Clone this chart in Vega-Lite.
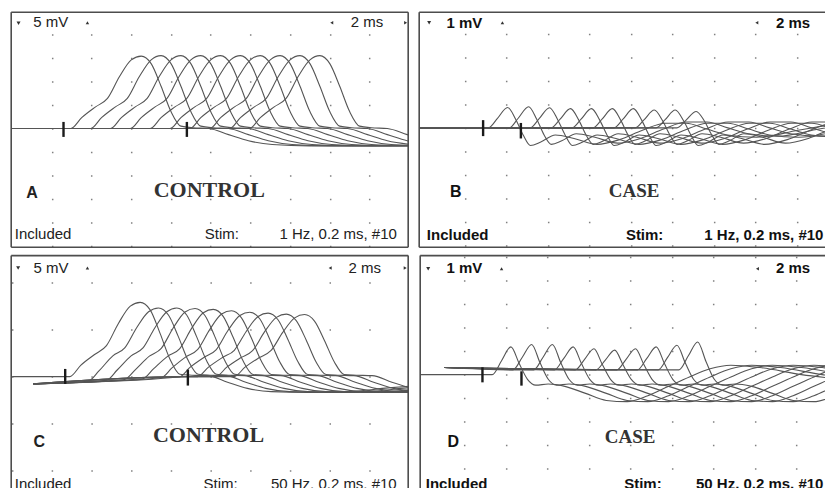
{
"$schema": "https://vega.github.io/schema/vega-lite/v6.json",
"background": "white",
"padding": {"left": 10.2, "top": 11.2, "right": 0, "bottom": 0},
"spacing": 6.4,
"config": {
  "view": {"stroke": null},
  "axis": {"grid": true, "domain": false, "labels": false, "ticks": false, "gridColor": "#808080", "gridWidth": 1.5, "gridOpacity": 1, "minExtent": 0},
  "text": {"font": "Liberation Sans", "baseline": "alphabetic", "fontSize": 15, "color": "#222"},
  "point": {"filled": true, "opacity": 1, "color": "#333"},
  "line": {"interpolate": "monotone", "color": "#555", "strokeWidth": 1.1}
},
"datasets": {
"A": [
{"s":0,"t":0,"v":0},{"s":0,"t":2.95,"v":0},{"s":0,"t":3.5,"v":2.3},{"s":0,"t":4.2,"v":4.6},{"s":0,"t":4.8,"v":6.4},{"s":0,"t":5.4,"v":11},{"s":0,"t":6.0,"v":14.6},{"s":0,"t":6.5,"v":15.4},{"s":0,"t":7.0,"v":13.8},{"s":0,"t":7.5,"v":9.0},{"s":0,"t":8.0,"v":3.6},{"s":0,"t":8.5,"v":0.5},{"s":0,"t":9.1,"v":0.15},{"s":0,"t":9.9,"v":0},{"s":0,"t":10.9,"v":-1.3},{"s":0,"t":11.9,"v":-2.6},{"s":0,"t":13.1,"v":-3.4},{"s":0,"t":15.0,"v":-3.7},{"s":0,"t":20.0,"v":-3.6},
{"s":1,"t":0,"v":0},{"s":1,"t":3.95,"v":0},{"s":1,"t":4.5,"v":2.3},{"s":1,"t":5.2,"v":4.6},{"s":1,"t":5.8,"v":6.4},{"s":1,"t":6.4,"v":11},{"s":1,"t":7.0,"v":14.6},{"s":1,"t":7.5,"v":15.5},{"s":1,"t":8.0,"v":13.8},{"s":1,"t":8.5,"v":9.0},{"s":1,"t":9.0,"v":3.6},{"s":1,"t":9.5,"v":0.5},{"s":1,"t":10.1,"v":0.15},{"s":1,"t":10.9,"v":0},{"s":1,"t":11.9,"v":-1.3},{"s":1,"t":12.9,"v":-2.6},{"s":1,"t":14.1,"v":-3.4},{"s":1,"t":16.0,"v":-3.7},{"s":1,"t":21.0,"v":-3.6},
{"s":2,"t":0,"v":0},{"s":2,"t":4.95,"v":0},{"s":2,"t":5.5,"v":2.3},{"s":2,"t":6.2,"v":4.6},{"s":2,"t":6.8,"v":6.4},{"s":2,"t":7.4,"v":11},{"s":2,"t":8.0,"v":14.6},{"s":2,"t":8.5,"v":15.5},{"s":2,"t":9.0,"v":13.8},{"s":2,"t":9.5,"v":9.0},{"s":2,"t":10.0,"v":3.6},{"s":2,"t":10.5,"v":0.5},{"s":2,"t":11.1,"v":0.15},{"s":2,"t":11.9,"v":0},{"s":2,"t":12.9,"v":-1.3},{"s":2,"t":13.9,"v":-2.6},{"s":2,"t":15.1,"v":-3.4},{"s":2,"t":17.0,"v":-3.7},{"s":2,"t":22.0,"v":-3.6},
{"s":3,"t":0,"v":0},{"s":3,"t":5.95,"v":0},{"s":3,"t":6.5,"v":2.3},{"s":3,"t":7.2,"v":4.6},{"s":3,"t":7.8,"v":6.4},{"s":3,"t":8.4,"v":11},{"s":3,"t":9.0,"v":14.6},{"s":3,"t":9.5,"v":15.5},{"s":3,"t":10.0,"v":13.8},{"s":3,"t":10.5,"v":9.0},{"s":3,"t":11.0,"v":3.6},{"s":3,"t":11.5,"v":0.5},{"s":3,"t":12.1,"v":0.15},{"s":3,"t":12.9,"v":0},{"s":3,"t":13.9,"v":-1.3},{"s":3,"t":14.9,"v":-2.6},{"s":3,"t":16.1,"v":-3.4},{"s":3,"t":18.0,"v":-3.7},{"s":3,"t":23.0,"v":-3.6},
{"s":4,"t":0,"v":0},{"s":4,"t":6.95,"v":0},{"s":4,"t":7.5,"v":2.3},{"s":4,"t":8.2,"v":4.6},{"s":4,"t":8.8,"v":6.4},{"s":4,"t":9.4,"v":11},{"s":4,"t":10.0,"v":14.6},{"s":4,"t":10.5,"v":15.5},{"s":4,"t":11.0,"v":13.8},{"s":4,"t":11.5,"v":9.0},{"s":4,"t":12.0,"v":3.6},{"s":4,"t":12.5,"v":0.5},{"s":4,"t":13.1,"v":0.15},{"s":4,"t":13.9,"v":0},{"s":4,"t":14.9,"v":-1.3},{"s":4,"t":15.9,"v":-2.6},{"s":4,"t":17.1,"v":-3.4},{"s":4,"t":19.0,"v":-3.7},{"s":4,"t":24.0,"v":-3.6},
{"s":5,"t":0,"v":0},{"s":5,"t":7.95,"v":0},{"s":5,"t":8.5,"v":2.3},{"s":5,"t":9.2,"v":4.6},{"s":5,"t":9.8,"v":6.4},{"s":5,"t":10.4,"v":11},{"s":5,"t":11.0,"v":14.6},{"s":5,"t":11.5,"v":15.5},{"s":5,"t":12.0,"v":13.8},{"s":5,"t":12.5,"v":9.0},{"s":5,"t":13.0,"v":3.6},{"s":5,"t":13.5,"v":0.5},{"s":5,"t":14.1,"v":0.15},{"s":5,"t":14.9,"v":0},{"s":5,"t":15.9,"v":-1.3},{"s":5,"t":16.9,"v":-2.6},{"s":5,"t":18.1,"v":-3.4},{"s":5,"t":20.0,"v":-3.7},
{"s":6,"t":0,"v":0},{"s":6,"t":8.95,"v":0},{"s":6,"t":9.5,"v":2.3},{"s":6,"t":10.2,"v":4.6},{"s":6,"t":10.8,"v":6.4},{"s":6,"t":11.4,"v":11},{"s":6,"t":12.0,"v":14.6},{"s":6,"t":12.5,"v":15.5},{"s":6,"t":13.0,"v":13.8},{"s":6,"t":13.5,"v":9.0},{"s":6,"t":14.0,"v":3.6},{"s":6,"t":14.5,"v":0.5},{"s":6,"t":15.1,"v":0.15},{"s":6,"t":15.9,"v":0},{"s":6,"t":16.9,"v":-1.3},{"s":6,"t":17.9,"v":-2.6},{"s":6,"t":19.1,"v":-3.4},{"s":6,"t":21.0,"v":-3.7},
{"s":7,"t":0,"v":0},{"s":7,"t":9.95,"v":0},{"s":7,"t":10.5,"v":2.3},{"s":7,"t":11.2,"v":4.6},{"s":7,"t":11.8,"v":6.4},{"s":7,"t":12.4,"v":11},{"s":7,"t":13.0,"v":14.6},{"s":7,"t":13.5,"v":15.5},{"s":7,"t":14.0,"v":13.8},{"s":7,"t":14.5,"v":9.0},{"s":7,"t":15.0,"v":3.6},{"s":7,"t":15.5,"v":0.5},{"s":7,"t":16.1,"v":0.15},{"s":7,"t":16.9,"v":0},{"s":7,"t":17.9,"v":-1.3},{"s":7,"t":18.9,"v":-2.6},{"s":7,"t":20.1,"v":-3.4},
{"s":8,"t":0,"v":0},{"s":8,"t":10.95,"v":0},{"s":8,"t":11.5,"v":2.3},{"s":8,"t":12.2,"v":4.6},{"s":8,"t":12.8,"v":6.4},{"s":8,"t":13.4,"v":11},{"s":8,"t":14.0,"v":14.6},{"s":8,"t":14.5,"v":15.5},{"s":8,"t":15.0,"v":13.8},{"s":8,"t":15.5,"v":9.0},{"s":8,"t":16.0,"v":3.6},{"s":8,"t":16.5,"v":0.5},{"s":8,"t":17.1,"v":0.15},{"s":8,"t":17.9,"v":0},{"s":8,"t":18.9,"v":-1.3},{"s":8,"t":19.9,"v":-2.6},{"s":8,"t":21.1,"v":-3.4},
{"s":9,"t":0,"v":0},{"s":9,"t":11.95,"v":0},{"s":9,"t":12.5,"v":2.3},{"s":9,"t":13.2,"v":4.6},{"s":9,"t":13.8,"v":6.4},{"s":9,"t":14.4,"v":11},{"s":9,"t":15.0,"v":14.6},{"s":9,"t":15.5,"v":15.5},{"s":9,"t":16.0,"v":13.8},{"s":9,"t":16.5,"v":9.0},{"s":9,"t":17.0,"v":3.6},{"s":9,"t":17.5,"v":0.5},{"s":9,"t":18.1,"v":0.15},{"s":9,"t":18.9,"v":0},{"s":9,"t":19.9,"v":-1.3},{"s":9,"t":20.9,"v":-2.6}
],
"B": [
{"s":0,"t":-0.2,"v":0},{"s":0,"t":3.13,"v":0},{"s":0,"t":3.56,"v":0.39},{"s":0,"t":4.06,"v":0.87},{"s":0,"t":4.46,"v":0.35},{"s":0,"t":4.81,"v":-0.3},{"s":0,"t":5.16,"v":-0.75},{"s":0,"t":5.66,"v":-0.6},{"s":0,"t":6.36,"v":-0.3},{"s":0,"t":7.26,"v":-0.45},{"s":0,"t":8.36,"v":-0.7},{"s":0,"t":9.46,"v":-0.5},{"s":0,"t":10.56,"v":-0.1},{"s":0,"t":11.66,"v":0.2},{"s":0,"t":12.66,"v":0.2},{"s":0,"t":13.66,"v":-0.05},{"s":0,"t":14.66,"v":-0.3},{"s":0,"t":16.06,"v":-0.4},{"s":0,"t":18.06,"v":-0.1},{"s":0,"t":20.06,"v":0.2},
{"s":1,"t":-0.2,"v":0},{"s":1,"t":4.14,"v":0},{"s":1,"t":4.57,"v":0.41},{"s":1,"t":5.07,"v":0.9},{"s":1,"t":5.47,"v":0.36},{"s":1,"t":5.82,"v":-0.3},{"s":1,"t":6.17,"v":-0.7},{"s":1,"t":6.67,"v":-0.55},{"s":1,"t":7.37,"v":-0.25},{"s":1,"t":8.27,"v":-0.4},{"s":1,"t":9.37,"v":-0.65},{"s":1,"t":10.47,"v":-0.45},{"s":1,"t":11.57,"v":-0.05},{"s":1,"t":12.67,"v":0.25},{"s":1,"t":13.67,"v":0.25},{"s":1,"t":14.67,"v":0},{"s":1,"t":15.67,"v":-0.25},{"s":1,"t":17.07,"v":-0.35},{"s":1,"t":19.07,"v":-0.05},{"s":1,"t":21.07,"v":0.25},
{"s":2,"t":-0.2,"v":0},{"s":2,"t":5.15,"v":0},{"s":2,"t":5.58,"v":0.39},{"s":2,"t":6.08,"v":0.86},{"s":2,"t":6.48,"v":0.34},{"s":2,"t":6.83,"v":-0.3},{"s":2,"t":7.18,"v":-0.75},{"s":2,"t":7.68,"v":-0.6},{"s":2,"t":8.38,"v":-0.3},{"s":2,"t":9.28,"v":-0.45},{"s":2,"t":10.38,"v":-0.7},{"s":2,"t":11.48,"v":-0.5},{"s":2,"t":12.58,"v":-0.1},{"s":2,"t":13.68,"v":0.2},{"s":2,"t":14.68,"v":0.2},{"s":2,"t":15.68,"v":-0.05},{"s":2,"t":16.68,"v":-0.3},{"s":2,"t":18.08,"v":-0.4},{"s":2,"t":20.08,"v":-0.1},
{"s":3,"t":-0.2,"v":0},{"s":3,"t":6.16,"v":0},{"s":3,"t":6.59,"v":0.37},{"s":3,"t":7.09,"v":0.82},{"s":3,"t":7.49,"v":0.33},{"s":3,"t":7.84,"v":-0.3},{"s":3,"t":8.19,"v":-0.7},{"s":3,"t":8.69,"v":-0.55},{"s":3,"t":9.39,"v":-0.25},{"s":3,"t":10.29,"v":-0.4},{"s":3,"t":11.39,"v":-0.65},{"s":3,"t":12.49,"v":-0.45},{"s":3,"t":13.59,"v":-0.05},{"s":3,"t":14.69,"v":0.25},{"s":3,"t":15.69,"v":0.25},{"s":3,"t":16.69,"v":0},{"s":3,"t":17.69,"v":-0.25},{"s":3,"t":19.09,"v":-0.35},{"s":3,"t":21.09,"v":-0.05},
{"s":4,"t":-0.2,"v":0},{"s":4,"t":7.17,"v":0},{"s":4,"t":7.6,"v":0.37},{"s":4,"t":8.1,"v":0.82},{"s":4,"t":8.5,"v":0.33},{"s":4,"t":8.85,"v":-0.3},{"s":4,"t":9.2,"v":-0.75},{"s":4,"t":9.7,"v":-0.6},{"s":4,"t":10.4,"v":-0.3},{"s":4,"t":11.3,"v":-0.45},{"s":4,"t":12.4,"v":-0.7},{"s":4,"t":13.5,"v":-0.5},{"s":4,"t":14.6,"v":-0.1},{"s":4,"t":15.7,"v":0.2},{"s":4,"t":16.7,"v":0.2},{"s":4,"t":17.7,"v":-0.05},{"s":4,"t":18.7,"v":-0.3},{"s":4,"t":20.1,"v":-0.4},
{"s":5,"t":-0.2,"v":0},{"s":5,"t":8.18,"v":0},{"s":5,"t":8.61,"v":0.37},{"s":5,"t":9.11,"v":0.82},{"s":5,"t":9.51,"v":0.33},{"s":5,"t":9.86,"v":-0.3},{"s":5,"t":10.21,"v":-0.7},{"s":5,"t":10.71,"v":-0.55},{"s":5,"t":11.41,"v":-0.25},{"s":5,"t":12.31,"v":-0.4},{"s":5,"t":13.41,"v":-0.65},{"s":5,"t":14.51,"v":-0.45},{"s":5,"t":15.61,"v":-0.05},{"s":5,"t":16.71,"v":0.25},{"s":5,"t":17.71,"v":0.25},{"s":5,"t":18.71,"v":0},{"s":5,"t":19.71,"v":-0.25},{"s":5,"t":21.11,"v":-0.35},
{"s":6,"t":-0.2,"v":0},{"s":6,"t":9.19,"v":0},{"s":6,"t":9.62,"v":0.37},{"s":6,"t":10.12,"v":0.82},{"s":6,"t":10.52,"v":0.33},{"s":6,"t":10.87,"v":-0.3},{"s":6,"t":11.22,"v":-0.75},{"s":6,"t":11.72,"v":-0.6},{"s":6,"t":12.42,"v":-0.3},{"s":6,"t":13.32,"v":-0.45},{"s":6,"t":14.42,"v":-0.7},{"s":6,"t":15.52,"v":-0.5},{"s":6,"t":16.62,"v":-0.1},{"s":6,"t":17.72,"v":0.2},{"s":6,"t":18.72,"v":0.2},{"s":6,"t":19.72,"v":-0.05},{"s":6,"t":20.72,"v":-0.3},
{"s":7,"t":-0.2,"v":0},{"s":7,"t":10.2,"v":0},{"s":7,"t":10.63,"v":0.34},{"s":7,"t":11.13,"v":0.76},{"s":7,"t":11.53,"v":0.3},{"s":7,"t":11.88,"v":-0.3},{"s":7,"t":12.23,"v":-0.7},{"s":7,"t":12.73,"v":-0.55},{"s":7,"t":13.43,"v":-0.25},{"s":7,"t":14.33,"v":-0.4},{"s":7,"t":15.43,"v":-0.65},{"s":7,"t":16.53,"v":-0.45},{"s":7,"t":17.63,"v":-0.05},{"s":7,"t":18.73,"v":0.25},{"s":7,"t":19.73,"v":0.25},{"s":7,"t":20.73,"v":0},
{"s":8,"t":-0.2,"v":0},{"s":8,"t":11.21,"v":0},{"s":8,"t":11.64,"v":0.34},{"s":8,"t":12.14,"v":0.76},{"s":8,"t":12.54,"v":0.3},{"s":8,"t":12.89,"v":-0.3},{"s":8,"t":13.24,"v":-0.75},{"s":8,"t":13.74,"v":-0.6},{"s":8,"t":14.44,"v":-0.3},{"s":8,"t":15.34,"v":-0.45},{"s":8,"t":16.44,"v":-0.7},{"s":8,"t":17.54,"v":-0.5},{"s":8,"t":18.64,"v":-0.1},{"s":8,"t":19.74,"v":0.2},{"s":8,"t":20.74,"v":0.2},
{"s":9,"t":-0.2,"v":0},{"s":9,"t":12.22,"v":0},{"s":9,"t":12.65,"v":0.32},{"s":9,"t":13.15,"v":0.7},{"s":9,"t":13.55,"v":0.28},{"s":9,"t":13.9,"v":-0.3},{"s":9,"t":14.25,"v":-0.7},{"s":9,"t":14.75,"v":-0.55},{"s":9,"t":15.45,"v":-0.25},{"s":9,"t":16.35,"v":-0.4},{"s":9,"t":17.45,"v":-0.65},{"s":9,"t":18.55,"v":-0.45},{"s":9,"t":19.65,"v":-0.05},{"s":9,"t":20.75,"v":0.25}
],
"C": [
{"s":0,"t":0,"v":0},{"s":0,"t":2.9,"v":0},{"s":0,"t":3.45,"v":2.4},{"s":0,"t":4.15,"v":4.7},{"s":0,"t":4.75,"v":6.6},{"s":0,"t":5.35,"v":11.3},{"s":0,"t":5.95,"v":15.0},{"s":0,"t":6.45,"v":15.8},{"s":0,"t":6.95,"v":14.2},{"s":0,"t":7.45,"v":9.2},{"s":0,"t":7.95,"v":3.7},{"s":0,"t":8.45,"v":0.5},{"s":0,"t":9.05,"v":0.3},{"s":0,"t":9.85,"v":0.2},{"s":0,"t":10.85,"v":-1.2},{"s":0,"t":11.85,"v":-2.5},{"s":0,"t":13.05,"v":-3.2},{"s":0,"t":14.95,"v":-3.35},{"s":0,"t":16.95,"v":-3.2},{"s":0,"t":18.95,"v":-2.4},{"s":0,"t":20.45,"v":-1.9},
{"s":1,"t":1.07,"v":-1.55},{"s":1,"t":3.82,"v":-1.0},{"s":1,"t":4.37,"v":1.2},{"s":1,"t":5.07,"v":4.4},{"s":1,"t":5.67,"v":6.1},{"s":1,"t":6.27,"v":10.4},{"s":1,"t":6.87,"v":13.8},{"s":1,"t":7.37,"v":14.6},{"s":1,"t":7.87,"v":13.1},{"s":1,"t":8.37,"v":8.5},{"s":1,"t":8.87,"v":3.4},{"s":1,"t":9.37,"v":0.5},{"s":1,"t":9.97,"v":0.3},{"s":1,"t":10.77,"v":0.2},{"s":1,"t":11.77,"v":-1.2},{"s":1,"t":12.77,"v":-2.5},{"s":1,"t":13.97,"v":-3.2},{"s":1,"t":15.87,"v":-3.35},{"s":1,"t":17.87,"v":-3.2},{"s":1,"t":19.87,"v":-2.4},{"s":1,"t":21.37,"v":-1.9},
{"s":2,"t":1.07,"v":-1.55},{"s":2,"t":4.74,"v":-0.81},{"s":2,"t":5.29,"v":1.4},{"s":2,"t":5.99,"v":4.4},{"s":2,"t":6.59,"v":6.1},{"s":2,"t":7.19,"v":10.4},{"s":2,"t":7.79,"v":13.8},{"s":2,"t":8.29,"v":14.6},{"s":2,"t":8.79,"v":13.1},{"s":2,"t":9.29,"v":8.5},{"s":2,"t":9.79,"v":3.4},{"s":2,"t":10.29,"v":0.5},{"s":2,"t":10.89,"v":0.3},{"s":2,"t":11.69,"v":0.2},{"s":2,"t":12.69,"v":-1.2},{"s":2,"t":13.69,"v":-2.5},{"s":2,"t":14.89,"v":-3.2},{"s":2,"t":16.79,"v":-3.35},{"s":2,"t":18.79,"v":-3.2},{"s":2,"t":20.79,"v":-2.4},
{"s":3,"t":1.07,"v":-1.55},{"s":3,"t":5.66,"v":-0.63},{"s":3,"t":6.21,"v":1.5},{"s":3,"t":6.91,"v":4.35},{"s":3,"t":7.51,"v":6.0},{"s":3,"t":8.11,"v":10.35},{"s":3,"t":8.71,"v":13.75},{"s":3,"t":9.21,"v":14.5},{"s":3,"t":9.71,"v":13.0},{"s":3,"t":10.21,"v":8.5},{"s":3,"t":10.71,"v":3.4},{"s":3,"t":11.21,"v":0.5},{"s":3,"t":11.81,"v":0.3},{"s":3,"t":12.61,"v":0.2},{"s":3,"t":13.61,"v":-1.2},{"s":3,"t":14.61,"v":-2.5},{"s":3,"t":15.81,"v":-3.2},{"s":3,"t":17.71,"v":-3.35},{"s":3,"t":19.71,"v":-3.2},{"s":3,"t":21.71,"v":-2.4},
{"s":4,"t":1.07,"v":-1.55},{"s":4,"t":6.58,"v":-0.45},{"s":4,"t":7.13,"v":1.7},{"s":4,"t":7.83,"v":4.3},{"s":4,"t":8.43,"v":5.9},{"s":4,"t":9.03,"v":10.2},{"s":4,"t":9.63,"v":13.6},{"s":4,"t":10.13,"v":14.3},{"s":4,"t":10.63,"v":12.8},{"s":4,"t":11.13,"v":8.35},{"s":4,"t":11.63,"v":3.35},{"s":4,"t":12.13,"v":0.45},{"s":4,"t":12.73,"v":0.3},{"s":4,"t":13.53,"v":0.2},{"s":4,"t":14.53,"v":-1.2},{"s":4,"t":15.53,"v":-2.5},{"s":4,"t":16.73,"v":-3.2},{"s":4,"t":18.63,"v":-3.35},{"s":4,"t":20.63,"v":-3.2},
{"s":5,"t":1.07,"v":-1.55},{"s":5,"t":7.5,"v":-0.26},{"s":5,"t":8.05,"v":1.85},{"s":5,"t":8.75,"v":4.2},{"s":5,"t":9.35,"v":5.8},{"s":5,"t":9.95,"v":10.0},{"s":5,"t":10.55,"v":13.3},{"s":5,"t":11.05,"v":14.0},{"s":5,"t":11.55,"v":12.5},{"s":5,"t":12.05,"v":8.2},{"s":5,"t":12.55,"v":3.3},{"s":5,"t":13.05,"v":0.45},{"s":5,"t":13.65,"v":0.3},{"s":5,"t":14.45,"v":0.2},{"s":5,"t":15.45,"v":-1.2},{"s":5,"t":16.45,"v":-2.5},{"s":5,"t":17.65,"v":-3.2},{"s":5,"t":19.55,"v":-3.35},{"s":5,"t":21.55,"v":-3.2},
{"s":6,"t":1.07,"v":-1.55},{"s":6,"t":8.42,"v":-0.08},{"s":6,"t":8.97,"v":2.0},{"s":6,"t":9.67,"v":4.1},{"s":6,"t":10.27,"v":5.7},{"s":6,"t":10.87,"v":9.8},{"s":6,"t":11.47,"v":13.0},{"s":6,"t":11.97,"v":13.7},{"s":6,"t":12.47,"v":12.3},{"s":6,"t":12.97,"v":8.0},{"s":6,"t":13.47,"v":3.2},{"s":6,"t":13.97,"v":0.45},{"s":6,"t":14.57,"v":0.3},{"s":6,"t":15.37,"v":0.2},{"s":6,"t":16.37,"v":-1.2},{"s":6,"t":17.37,"v":-2.5},{"s":6,"t":18.57,"v":-3.2},{"s":6,"t":20.47,"v":-3.35},
{"s":7,"t":1.07,"v":-1.55},{"s":7,"t":8.8,"v":0},{"s":7,"t":9.34,"v":0},{"s":7,"t":9.89,"v":2.0},{"s":7,"t":10.59,"v":4.05},{"s":7,"t":11.19,"v":5.6},{"s":7,"t":11.79,"v":9.6},{"s":7,"t":12.39,"v":12.8},{"s":7,"t":12.89,"v":13.5},{"s":7,"t":13.39,"v":12.1},{"s":7,"t":13.89,"v":7.9},{"s":7,"t":14.39,"v":3.2},{"s":7,"t":14.89,"v":0.43},{"s":7,"t":15.49,"v":0.3},{"s":7,"t":16.29,"v":0.2},{"s":7,"t":17.29,"v":-1.2},{"s":7,"t":18.29,"v":-2.5},{"s":7,"t":19.49,"v":-3.2},{"s":7,"t":21.39,"v":-3.35},
{"s":8,"t":1.07,"v":-1.55},{"s":8,"t":8.8,"v":0},{"s":8,"t":10.26,"v":0},{"s":8,"t":10.81,"v":2.0},{"s":8,"t":11.51,"v":4.0},{"s":8,"t":12.11,"v":5.5},{"s":8,"t":12.71,"v":9.5},{"s":8,"t":13.31,"v":12.6},{"s":8,"t":13.81,"v":13.3},{"s":8,"t":14.31,"v":11.9},{"s":8,"t":14.81,"v":7.8},{"s":8,"t":15.31,"v":3.1},{"s":8,"t":15.81,"v":0.43},{"s":8,"t":16.41,"v":0.3},{"s":8,"t":17.21,"v":0.2},{"s":8,"t":18.21,"v":-1.2},{"s":8,"t":19.21,"v":-2.5},{"s":8,"t":20.41,"v":-3.2},
{"s":9,"t":1.07,"v":-1.55},{"s":9,"t":8.8,"v":0},{"s":9,"t":11.18,"v":0},{"s":9,"t":11.73,"v":2.0},{"s":9,"t":12.43,"v":4.0},{"s":9,"t":13.03,"v":5.5},{"s":9,"t":13.63,"v":9.4},{"s":9,"t":14.23,"v":12.5},{"s":9,"t":14.73,"v":13.2},{"s":9,"t":15.23,"v":11.8},{"s":9,"t":15.73,"v":7.7},{"s":9,"t":16.23,"v":3.1},{"s":9,"t":16.73,"v":0.42},{"s":9,"t":17.33,"v":0.3},{"s":9,"t":18.13,"v":0.2},{"s":9,"t":19.13,"v":-1.2},{"s":9,"t":20.13,"v":-2.5}
],
"D": [
{"s":0,"t":-0.12,"v":0},{"s":0,"t":3.35,"v":0},{"s":0,"t":3.8,"v":0.59},{"s":0,"t":4.25,"v":1.18},{"s":0,"t":4.65,"v":0.47},{"s":0,"t":5.05,"v":-0.2},{"s":0,"t":5.45,"v":-0.45},{"s":0,"t":6.05,"v":-0.4},{"s":0,"t":6.85,"v":-0.5},{"s":0,"t":7.85,"v":-0.8},{"s":0,"t":8.85,"v":-1.1},{"s":0,"t":9.85,"v":-1.15},{"s":0,"t":10.85,"v":-0.9},{"s":0,"t":11.85,"v":-0.5},{"s":0,"t":12.85,"v":-0.1},{"s":0,"t":13.85,"v":0.25},{"s":0,"t":14.85,"v":0.4},{"s":0,"t":16.25,"v":0.3},{"s":0,"t":18.25,"v":0},{"s":0,"t":20.25,"v":-0.2},
{"s":1,"t":1.04,"v":0.3},{"s":1,"t":4.35,"v":0.2},{"s":1,"t":4.8,"v":0.74},{"s":1,"t":5.25,"v":1.28},{"s":1,"t":5.65,"v":0.51},{"s":1,"t":6.05,"v":-0.2},{"s":1,"t":6.45,"v":-0.45},{"s":1,"t":7.05,"v":-0.4},{"s":1,"t":7.85,"v":-0.5},{"s":1,"t":8.85,"v":-0.8},{"s":1,"t":9.85,"v":-1.1},{"s":1,"t":10.85,"v":-1.15},{"s":1,"t":11.85,"v":-0.9},{"s":1,"t":12.85,"v":-0.5},{"s":1,"t":13.85,"v":-0.1},{"s":1,"t":14.85,"v":0.25},{"s":1,"t":15.85,"v":0.4},{"s":1,"t":17.25,"v":0.3},{"s":1,"t":19.25,"v":0},{"s":1,"t":21.25,"v":-0.2},
{"s":2,"t":1.04,"v":0.3},{"s":2,"t":5.35,"v":0.2},{"s":2,"t":5.8,"v":0.74},{"s":2,"t":6.25,"v":1.28},{"s":2,"t":6.65,"v":0.51},{"s":2,"t":7.05,"v":-0.2},{"s":2,"t":7.45,"v":-0.45},{"s":2,"t":8.05,"v":-0.4},{"s":2,"t":8.85,"v":-0.5},{"s":2,"t":9.85,"v":-0.8},{"s":2,"t":10.85,"v":-1.1},{"s":2,"t":11.85,"v":-1.15},{"s":2,"t":12.85,"v":-0.9},{"s":2,"t":13.85,"v":-0.5},{"s":2,"t":14.85,"v":-0.1},{"s":2,"t":15.85,"v":0.25},{"s":2,"t":16.85,"v":0.4},{"s":2,"t":18.25,"v":0.3},{"s":2,"t":20.25,"v":0},
{"s":3,"t":1.04,"v":0.3},{"s":3,"t":6.35,"v":0.2},{"s":3,"t":6.8,"v":0.69},{"s":3,"t":7.25,"v":1.18},{"s":3,"t":7.65,"v":0.47},{"s":3,"t":8.05,"v":-0.2},{"s":3,"t":8.45,"v":-0.45},{"s":3,"t":9.05,"v":-0.4},{"s":3,"t":9.85,"v":-0.5},{"s":3,"t":10.85,"v":-0.8},{"s":3,"t":11.85,"v":-1.1},{"s":3,"t":12.85,"v":-1.15},{"s":3,"t":13.85,"v":-0.9},{"s":3,"t":14.85,"v":-0.5},{"s":3,"t":15.85,"v":-0.1},{"s":3,"t":16.85,"v":0.25},{"s":3,"t":17.85,"v":0.4},{"s":3,"t":19.25,"v":0.3},{"s":3,"t":21.25,"v":0},
{"s":4,"t":1.04,"v":0.3},{"s":4,"t":7.35,"v":0.2},{"s":4,"t":7.8,"v":0.65},{"s":4,"t":8.25,"v":1.1},{"s":4,"t":8.65,"v":0.44},{"s":4,"t":9.05,"v":-0.2},{"s":4,"t":9.45,"v":-0.45},{"s":4,"t":10.05,"v":-0.4},{"s":4,"t":10.85,"v":-0.5},{"s":4,"t":11.85,"v":-0.8},{"s":4,"t":12.85,"v":-1.1},{"s":4,"t":13.85,"v":-1.15},{"s":4,"t":14.85,"v":-0.9},{"s":4,"t":15.85,"v":-0.5},{"s":4,"t":16.85,"v":-0.1},{"s":4,"t":17.85,"v":0.25},{"s":4,"t":18.85,"v":0.4},{"s":4,"t":20.25,"v":0.3},
{"s":5,"t":1.04,"v":0.3},{"s":5,"t":8.35,"v":0.2},{"s":5,"t":8.8,"v":0.62},{"s":5,"t":9.25,"v":1.04},{"s":5,"t":9.65,"v":0.42},{"s":5,"t":10.05,"v":-0.2},{"s":5,"t":10.45,"v":-0.45},{"s":5,"t":11.05,"v":-0.4},{"s":5,"t":11.85,"v":-0.5},{"s":5,"t":12.85,"v":-0.8},{"s":5,"t":13.85,"v":-1.1},{"s":5,"t":14.85,"v":-1.15},{"s":5,"t":15.85,"v":-0.9},{"s":5,"t":16.85,"v":-0.5},{"s":5,"t":17.85,"v":-0.1},{"s":5,"t":18.85,"v":0.25},{"s":5,"t":19.85,"v":0.4},{"s":5,"t":21.25,"v":0.3},
{"s":6,"t":1.04,"v":0.3},{"s":6,"t":9.35,"v":0.2},{"s":6,"t":9.8,"v":0.65},{"s":6,"t":10.25,"v":1.1},{"s":6,"t":10.65,"v":0.44},{"s":6,"t":11.05,"v":-0.2},{"s":6,"t":11.45,"v":-0.45},{"s":6,"t":12.05,"v":-0.4},{"s":6,"t":12.85,"v":-0.5},{"s":6,"t":13.85,"v":-0.8},{"s":6,"t":14.85,"v":-1.1},{"s":6,"t":15.85,"v":-1.15},{"s":6,"t":16.85,"v":-0.9},{"s":6,"t":17.85,"v":-0.5},{"s":6,"t":18.85,"v":-0.1},{"s":6,"t":19.85,"v":0.25},{"s":6,"t":20.85,"v":0.4},
{"s":7,"t":1.04,"v":0.3},{"s":7,"t":10.35,"v":0.2},{"s":7,"t":10.8,"v":0.69},{"s":7,"t":11.25,"v":1.18},{"s":7,"t":11.65,"v":0.47},{"s":7,"t":12.05,"v":-0.2},{"s":7,"t":12.45,"v":-0.45},{"s":7,"t":13.05,"v":-0.4},{"s":7,"t":13.85,"v":-0.5},{"s":7,"t":14.85,"v":-0.8},{"s":7,"t":15.85,"v":-1.1},{"s":7,"t":16.85,"v":-1.15},{"s":7,"t":17.85,"v":-0.9},{"s":7,"t":18.85,"v":-0.5},{"s":7,"t":19.85,"v":-0.1},{"s":7,"t":20.85,"v":0.25},
{"s":8,"t":1.04,"v":0.3},{"s":8,"t":11.35,"v":0.2},{"s":8,"t":11.8,"v":0.73},{"s":8,"t":12.25,"v":1.25},{"s":8,"t":12.65,"v":0.5},{"s":8,"t":13.05,"v":-0.2},{"s":8,"t":13.45,"v":-0.45},{"s":8,"t":14.05,"v":-0.4},{"s":8,"t":14.85,"v":-0.5},{"s":8,"t":15.85,"v":-0.8},{"s":8,"t":16.85,"v":-1.1},{"s":8,"t":17.85,"v":-1.15},{"s":8,"t":18.85,"v":-0.9},{"s":8,"t":19.85,"v":-0.5},{"s":8,"t":20.85,"v":-0.1},
{"s":9,"t":1.04,"v":0.3},{"s":9,"t":12.35,"v":0.2},{"s":9,"t":12.8,"v":0.8},{"s":9,"t":13.25,"v":1.39},{"s":9,"t":13.65,"v":0.56},{"s":9,"t":14.05,"v":-0.2},{"s":9,"t":14.45,"v":-0.45},{"s":9,"t":15.05,"v":-0.4},{"s":9,"t":15.85,"v":-0.5},{"s":9,"t":16.85,"v":-0.8},{"s":9,"t":17.85,"v":-1.1},{"s":9,"t":18.85,"v":-1.15},{"s":9,"t":19.85,"v":-0.9},{"s":9,"t":20.85,"v":-0.5}
]
},
"vconcat": [
{"hconcat": [
 {"width": 397, "height": 235, "data": {"values": [{}]},
  "layer": [
   {"data": {"name": "A"}, "mark": {"type": "line", "clip": true},
    "encoding": {
     "x": {"field": "t", "type": "quantitative", "title": null, "scale": {"domain": [-0.05, 19.95], "nice": false, "zero": false},
           "axis": {"values": [2,4,6,8,10,12,14,16,18], "gridDash": [1.5, 22], "gridDashOffset": 1.95}},
     "y": {"field": "v", "type": "quantitative", "scale": {"domain": [-25.255, 24.745], "nice": false, "zero": false}, "axis": null},
     "detail": {"field": "s", "type": "nominal"}}},
   {"mark": {"type": "rule", "color": "#4d4d4d", "strokeWidth": 1.6}, "encoding": {"y": {"datum": 24.745}}},
   {"mark": {"type": "rule", "color": "#4d4d4d", "strokeWidth": 1.6}, "encoding": {"y": {"datum": -25.255}}},
   {"mark": {"type": "rule", "color": "#4d4d4d", "strokeWidth": 1.6}, "encoding": {"x": {"datum": -0.05}}},
   {"mark": {"type": "rule", "color": "#4d4d4d", "strokeWidth": 1.6}, "encoding": {"x": {"datum": 19.95}}},
   {"mark": {"type": "rule", "color": "#1a1a1a", "strokeWidth": 2.4}, "encoding": {"x": {"datum": 2.585}, "y": {"datum": 1.4}, "y2": {"datum": -1.79}}},
   {"mark": {"type": "rule", "color": "#1a1a1a", "strokeWidth": 2.4}, "encoding": {"x": {"datum": 8.8}, "y": {"datum": 1.4}, "y2": {"datum": -1.79}}},
   {"mark": {"type": "point", "shape": "triangle-down", "size": 16}, "encoding": {"x": {"datum": 0.32}, "y": {"datum": 22.4}}},
   {"mark": {"type": "text", "text": "5 mV", "align": "left"}, "encoding": {"x": {"datum": 1.06}, "y": {"datum": 21.5}}},
   {"mark": {"type": "point", "shape": "triangle-up", "size": 12}, "encoding": {"x": {"datum": 3.79}, "y": {"datum": 22.5}}},
   {"mark": {"type": "point", "shape": "triangle-left", "size": 12}, "encoding": {"x": {"datum": 16.1}, "y": {"datum": 22.5}}},
   {"mark": {"type": "text", "text": "2 ms", "align": "left"}, "encoding": {"x": {"datum": 17.06}, "y": {"datum": 21.5}}},
   {"mark": {"type": "point", "shape": "triangle-right", "size": 12}, "encoding": {"x": {"datum": 19.82}, "y": {"datum": 22.5}}},
   {"mark": {"type": "text", "text": "Included", "align": "left"}, "encoding": {"x": {"datum": 0.13}, "y": {"datum": -23.55}}},
   {"mark": {"type": "text", "text": "Stim:", "align": "left"}, "encoding": {"x": {"datum": 9.7}, "y": {"datum": -23.55}}},
   {"mark": {"type": "text", "text": "1 Hz, 0.2 ms, #10", "align": "right"}, "encoding": {"x": {"datum": 19.38}, "y": {"datum": -23.55}}},
   {"mark": {"type": "text", "text": "A", "align": "left", "fontSize": 16, "fontWeight": "bold"}, "encoding": {"x": {"datum": 0.71}, "y": {"datum": -14.83}}},
   {"mark": {"type": "text", "text": "CONTROL", "align": "center", "font": "Liberation Serif", "fontSize": 22, "fontWeight": "bold", "color": "#333"}, "encoding": {"x": {"datum": 9.93}, "y": {"datum": -14.68}}}
  ]},
 {"width": 408, "height": 235, "data": {"values": [{}]},
  "layer": [
   {"data": {"name": "B"}, "mark": {"type": "line", "clip": true},
    "encoding": {
     "x": {"field": "t", "type": "quantitative", "title": null, "scale": {"domain": [-0.2, 19.46], "nice": false, "zero": false},
           "axis": {"values": [2,4,6,8,10,12,14,16,18], "gridDash": [1.5, 22], "gridDashOffset": 2.55}},
     "y": {"field": "v", "type": "quantitative", "scale": {"domain": [-5.077, 4.923], "nice": false, "zero": false}, "axis": null},
     "detail": {"field": "s", "type": "nominal"}}},
   {"mark": {"type": "rule", "color": "#4d4d4d", "strokeWidth": 1.6}, "encoding": {"y": {"datum": 4.923}}},
   {"mark": {"type": "rule", "color": "#4d4d4d", "strokeWidth": 1.6}, "encoding": {"y": {"datum": -5.077}}},
   {"mark": {"type": "rule", "color": "#4d4d4d", "strokeWidth": 1.6}, "encoding": {"x": {"datum": -0.2}}},
   {"mark": {"type": "rule", "color": "#1a1a1a", "strokeWidth": 2.4}, "encoding": {"x": {"datum": 2.88}, "y": {"datum": 0.33}, "y2": {"datum": -0.35}}},
   {"mark": {"type": "rule", "color": "#1a1a1a", "strokeWidth": 2.4}, "encoding": {"x": {"datum": 4.7}, "y": {"datum": 0.21}, "y2": {"datum": -0.45}}},
   {"mark": {"type": "point", "shape": "triangle-down", "size": 16}, "encoding": {"x": {"datum": 0.28}, "y": {"datum": 4.47}}},
   {"mark": {"type": "text", "text": "1 mV", "align": "left", "fontWeight": "bold", "color": "#111"}, "encoding": {"x": {"datum": 1.116}, "y": {"datum": 4.27}}},
   {"mark": {"type": "point", "shape": "triangle-up", "size": 12}, "encoding": {"x": {"datum": 3.81}, "y": {"datum": 4.47}}},
   {"mark": {"type": "point", "shape": "triangle-left", "size": 12}, "encoding": {"x": {"datum": 16.07}, "y": {"datum": 4.47}}},
   {"mark": {"type": "text", "text": "2 ms", "align": "left", "fontWeight": "bold", "color": "#111"}, "encoding": {"x": {"datum": 16.99}, "y": {"datum": 4.27}}},
   {"mark": {"type": "text", "text": "Included", "align": "left", "fontWeight": "bold", "color": "#111"}, "encoding": {"x": {"datum": 0.17}, "y": {"datum": -4.75}}},
   {"mark": {"type": "text", "text": "Stim:", "align": "left", "fontWeight": "bold", "color": "#111"}, "encoding": {"x": {"datum": 9.76}, "y": {"datum": -4.75}}},
   {"mark": {"type": "text", "text": "1 Hz, 0.2 ms, #10", "align": "right", "fontWeight": "bold", "color": "#111"}, "encoding": {"x": {"datum": 19.28}, "y": {"datum": -4.75}}},
   {"mark": {"type": "text", "text": "B", "align": "left", "fontSize": 16, "fontWeight": "bold", "color": "#111"}, "encoding": {"x": {"datum": 1.29}, "y": {"datum": -2.94}}},
   {"mark": {"type": "text", "text": "CASE", "align": "center", "font": "Liberation Serif", "fontSize": 19, "fontWeight": "bold", "color": "#333"}, "encoding": {"x": {"datum": 10.16}, "y": {"datum": -2.96}}}
  ]}
 ], "spacing": 9},
{"hconcat": [
 {"width": 397, "height": 233, "data": {"values": [{}]},
  "layer": [
   {"data": {"name": "C"}, "mark": {"type": "line", "clip": true},
    "encoding": {
     "x": {"field": "t", "type": "quantitative", "scale": {"domain": [-0.05, 19.95], "nice": false, "zero": false}, "axis": null},
     "y": {"field": "v", "type": "quantitative", "title": null, "scale": {"domain": [-23.83, 25.745], "nice": false, "zero": false},
           "axis": {"values": [-20,-15,-10,-5,0,5,10,15,20], "gridDash": [1.5, 38.2], "gridDashOffset": 39.46}},
     "detail": {"field": "s", "type": "nominal"}}},
   {"mark": {"type": "rule", "color": "#4d4d4d", "strokeWidth": 1.6}, "encoding": {"y": {"datum": 25.745}}},
   {"mark": {"type": "rule", "color": "#4d4d4d", "strokeWidth": 1.6}, "encoding": {"x": {"datum": -0.05}}},
   {"mark": {"type": "rule", "color": "#4d4d4d", "strokeWidth": 1.6}, "encoding": {"x": {"datum": 19.95}}},
   {"mark": {"type": "rule", "color": "#1a1a1a", "strokeWidth": 2.4}, "encoding": {"x": {"datum": 2.67}, "y": {"datum": 1.63}, "y2": {"datum": -1.56}}},
   {"mark": {"type": "rule", "color": "#1a1a1a", "strokeWidth": 2.4}, "encoding": {"x": {"datum": 8.85}, "y": {"datum": 1.49}, "y2": {"datum": -1.91}}},
   {"mark": {"type": "point", "shape": "triangle-down", "size": 16}, "encoding": {"x": {"datum": 0.3}, "y": {"datum": 23.1}}},
   {"mark": {"type": "text", "text": "5 mV", "align": "left"}, "encoding": {"x": {"datum": 1.07}, "y": {"datum": 21.98}}},
   {"mark": {"type": "point", "shape": "triangle-up", "size": 12}, "encoding": {"x": {"datum": 3.79}, "y": {"datum": 23.1}}},
   {"mark": {"type": "point", "shape": "triangle-left", "size": 12}, "encoding": {"x": {"datum": 16.02}, "y": {"datum": 23.1}}},
   {"mark": {"type": "text", "text": "2 ms", "align": "left"}, "encoding": {"x": {"datum": 16.94}, "y": {"datum": 21.98}}},
   {"mark": {"type": "point", "shape": "triangle-right", "size": 12}, "encoding": {"x": {"datum": 19.8}, "y": {"datum": 23.1}}},
   {"mark": {"type": "text", "text": "C", "align": "left", "fontSize": 16, "fontWeight": "bold"}, "encoding": {"x": {"datum": 1.07}, "y": {"datum": -15.04}}},
   {"mark": {"type": "text", "text": "CONTROL", "align": "center", "font": "Liberation Serif", "fontSize": 22, "fontWeight": "bold", "color": "#333"}, "encoding": {"x": {"datum": 9.89}, "y": {"datum": -13.98}}},
   {"mark": {"type": "text", "text": "Included", "align": "left", "clip": true}, "encoding": {"x": {"datum": 0.13}, "y": {"datum": -23.94}}},
   {"mark": {"type": "text", "text": "Stim:", "align": "left", "clip": true}, "encoding": {"x": {"datum": 9.64}, "y": {"datum": -23.94}}},
   {"mark": {"type": "text", "text": "50 Hz, 0.2 ms, #10", "align": "right", "clip": true}, "encoding": {"x": {"datum": 19.37}, "y": {"datum": -23.94}}}
  ]},
 {"width": 407, "height": 233, "data": {"values": [{}]},
  "layer": [
   {"data": {"name": "D"}, "mark": {"type": "line", "clip": true},
    "encoding": {
     "x": {"field": "t", "type": "quantitative", "title": null, "scale": {"domain": [-0.12, 19.49], "nice": false, "zero": false},
           "axis": {"values": [2,4,6,8,10,12,14,16,18], "gridDash": [1.5, 22], "gridDashOffset": 22.75}},
     "y": {"field": "v", "type": "quantitative", "scale": {"domain": [-4.851, 5.064], "nice": false, "zero": false}, "axis": null},
     "detail": {"field": "s", "type": "nominal"}}},
   {"mark": {"type": "rule", "color": "#4d4d4d", "strokeWidth": 1.6}, "encoding": {"y": {"datum": 5.064}}},
   {"mark": {"type": "rule", "color": "#4d4d4d", "strokeWidth": 1.6}, "encoding": {"x": {"datum": -0.12}}},
   {"mark": {"type": "rule", "color": "#1a1a1a", "strokeWidth": 2.4}, "encoding": {"x": {"datum": 2.88}, "y": {"datum": 0.31}, "y2": {"datum": -0.33}}},
   {"mark": {"type": "rule", "color": "#1a1a1a", "strokeWidth": 2.4}, "encoding": {"x": {"datum": 4.76}, "y": {"datum": 0.14}, "y2": {"datum": -0.47}}},
   {"mark": {"type": "point", "shape": "triangle-down", "size": 16}, "encoding": {"x": {"datum": 0.265}, "y": {"datum": 4.5}}},
   {"mark": {"type": "text", "text": "1 mV", "align": "left", "fontWeight": "bold", "color": "#111"}, "encoding": {"x": {"datum": 1.147}, "y": {"datum": 4.31}}},
   {"mark": {"type": "point", "shape": "triangle-up", "size": 12}, "encoding": {"x": {"datum": 3.8}, "y": {"datum": 4.5}}},
   {"mark": {"type": "point", "shape": "triangle-left", "size": 12}, "encoding": {"x": {"datum": 16.13}, "y": {"datum": 4.5}}},
   {"mark": {"type": "text", "text": "2 ms", "align": "left", "fontWeight": "bold", "color": "#111"}, "encoding": {"x": {"datum": 17.02}, "y": {"datum": 4.31}}},
   {"mark": {"type": "text", "text": "D", "align": "left", "fontSize": 16, "fontWeight": "bold", "color": "#111"}, "encoding": {"x": {"datum": 1.195}, "y": {"datum": -3.09}}},
   {"mark": {"type": "text", "text": "CASE", "align": "center", "font": "Liberation Serif", "fontSize": 19, "fontWeight": "bold", "color": "#333"}, "encoding": {"x": {"datum": 9.99}, "y": {"datum": -2.92}}},
   {"mark": {"type": "text", "text": "Included", "align": "left", "fontWeight": "bold", "color": "#111", "clip": true}, "encoding": {"x": {"datum": 0.15}, "y": {"datum": -4.87}}},
   {"mark": {"type": "text", "text": "Stim:", "align": "left", "fontWeight": "bold", "color": "#111", "clip": true}, "encoding": {"x": {"datum": 9.71}, "y": {"datum": -4.87}}},
   {"mark": {"type": "text", "text": "50 Hz, 0.2 ms, #10", "align": "right", "fontWeight": "bold", "color": "#111", "clip": true}, "encoding": {"x": {"datum": 19.31}, "y": {"datum": -4.87}}}
  ]}
 ], "spacing": 10}
]
}
